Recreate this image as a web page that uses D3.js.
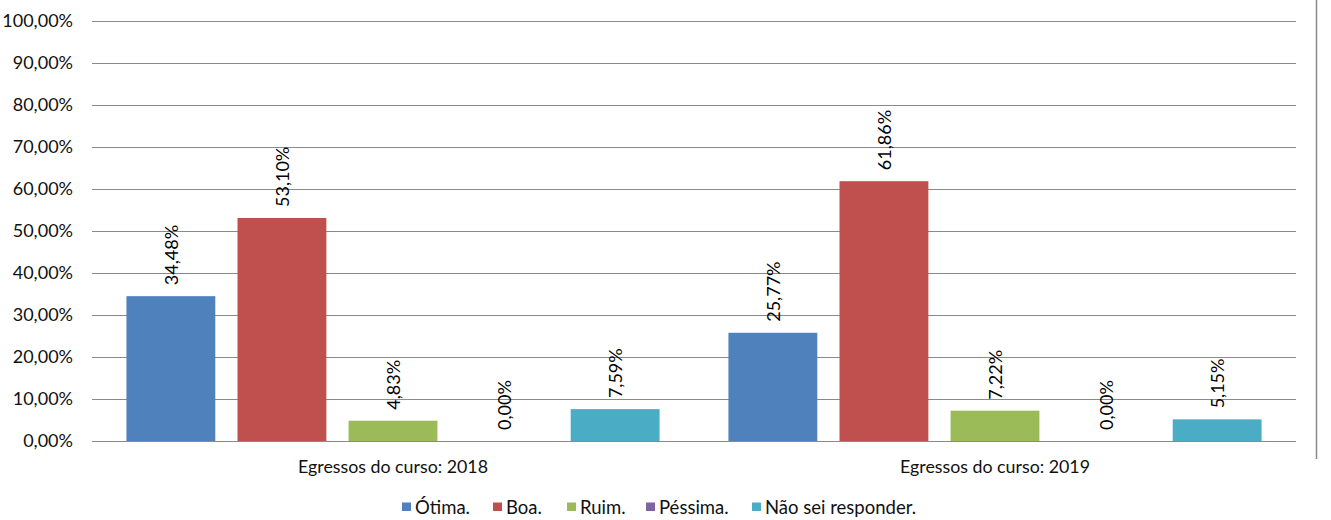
<!DOCTYPE html>
<html><head><meta charset="utf-8">
<script src="https://cdn.jsdelivr.net/npm/d3@7"></script>
<style>body{margin:0;background:#fff}svg{display:block}text{font-family:Lato,"Liberation Sans",sans-serif}</style>
</head><body>
<script>
const categories = ["Egressos do curso: 2018", "Egressos do curso: 2019"];
const seriesNames = ["Ótima.", "Boa.", "Ruim.", "Péssima.", "Não sei responder."];
const seriesColors = ["#4F81BD", "#C0504D", "#9BBB59", "#8064A2", "#4BACC6"];
const values2018 = [34.48, 53.10, 4.83, 0.00, 7.59];
const values2019 = [25.77, 61.86, 7.22, 0.00, 5.15];
const yTicks = [0, 10, 20, 30, 40, 50, 60, 70, 80, 90, 100];

const W = 1331, H = 520;
const FS = 18;
const svg = d3.select("body").append("svg").attr("width", W).attr("height", H);
const fmt = v => v.toFixed(2).replace(".", ",") + "%";
const data = [values2018, values2019];

const y = d3.scaleLinear().domain([0, 100]).range([441, 21]);
const x0 = d3.scaleBand().domain(categories).range([92, 1296]);
const x1 = d3.scaleBand().domain(seriesNames).range([0, x0.bandwidth()]).paddingInner(0.2).paddingOuter(0.31);
const color = d3.scaleOrdinal().domain(seriesNames).range(seriesColors);

// gridlines
const yAxis = d3.axisLeft(y).tickValues(yTicks).tickSize(-(1296 - 92)).tickFormat(d => fmt(d)).tickPadding(19);
const ga = svg.append("g").attr("transform", "translate(92,0)").call(yAxis);
ga.select(".domain").remove();
ga.selectAll(".tick line").attr("stroke", "#8a8a8a").attr("stroke-width", 1.2);
ga.selectAll(".tick text").attr("font-size", FS).attr("fill", "#111").attr("font-family", "Lato, 'Liberation Sans', sans-serif");

// right frame
svg.append("line").attr("x1", 1316.5).attr("x2", 1316.5).attr("y1", 0).attr("y2", 459).attr("stroke", "#8a8a8a").attr("stroke-width", 1.5);

// bars
categories.forEach((c, ci) => {
  const g = svg.append("g").attr("transform", `translate(${x0(c)},0)`);
  seriesNames.forEach((s, si) => {
    const v = data[ci][si];
    g.append("rect").attr("x", x1(s)).attr("width", x1.bandwidth())
      .attr("y", y(v)).attr("height", y(0) - y(v)).attr("fill", color(s));
    const cx = x1(s) + x1.bandwidth() / 2 + 7;
    const ty = y(v) - 11;
    g.append("text").attr("transform", `translate(${cx},${ty}) rotate(-90)`)
      .attr("font-size", FS).attr("fill", "#000").attr("text-anchor", "start").text(fmt(v));
  });
});
// baseline on top of bars
svg.append("line").attr("x1", 92).attr("x2", 1296).attr("y1", y(0) + 0.5).attr("y2", y(0) + 0.5).attr("stroke", "#8a8a8a").attr("stroke-width", 1.2);

// category labels
svg.selectAll(".cat").data(categories).enter().append("text")
  .attr("x", d => x0(d) + x0.bandwidth() / 2).attr("y", 473)
  .attr("text-anchor", "middle").attr("font-size", 17.8).attr("fill", "#111").text(d => d);

// legend
const legendX = [402, 493, 567, 646, 752];
const lg = svg.append("g");
seriesNames.forEach((s, i) => {
  lg.append("rect").attr("x", legendX[i]).attr("y", 502.5).attr("width", 9).attr("height", 8.5).attr("fill", color(s));
  lg.append("text").attr("x", legendX[i] + 13).attr("y", 514).attr("font-size", 18.5).attr("fill", "#111").text(s);
});
</script>
</body></html>
